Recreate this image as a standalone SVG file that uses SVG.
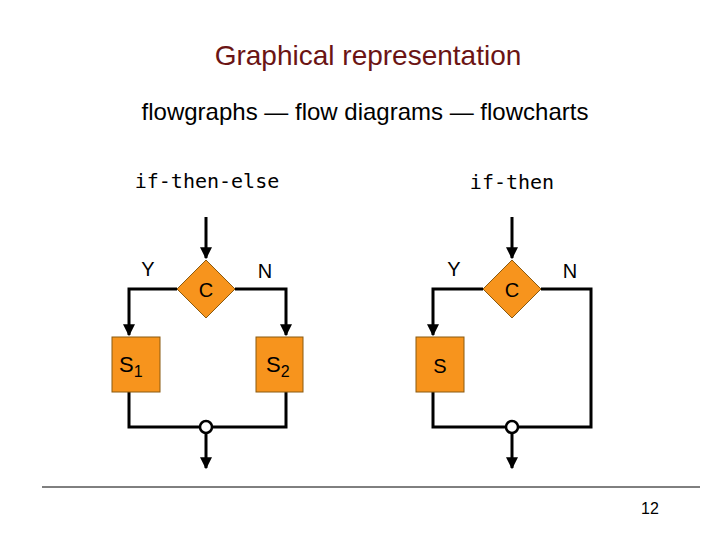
<svg xmlns="http://www.w3.org/2000/svg" width="720" height="540" viewBox="0 0 720 540">
<style>
.t{font-family:"Liberation Sans",Arial,sans-serif;fill:#000}
.m{font-family:"DejaVu Sans Mono","Liberation Mono",monospace;font-size:20px;fill:#000}
.ln{stroke:#000;stroke-width:3;fill:none}
.nd{fill:#f7941d;stroke:#8a5a10;stroke-width:1}
</style>
<defs><marker id="a" viewBox="0 0 10 10" refX="9" refY="5" markerWidth="4" markerHeight="4" orient="auto" markerUnits="strokeWidth"><path d="M0,0L10,5L0,10z" fill="#000"/></marker></defs>
<rect width="720" height="540" fill="#fff"/>
<text class="t" x="368" y="65" font-size="28" fill="#6b1414" style="fill:#6b1414" text-anchor="middle">Graphical representation</text>
<text class="t" x="365" y="120" font-size="24" text-anchor="middle">flowgraphs — flow diagrams — flowcharts</text>
<text class="m" x="207" y="188" text-anchor="middle">if-then-else</text>
<text class="m" x="512" y="189" text-anchor="middle">if-then</text>
<g id="connectors">
<path class="ln" d="M206,217V258" marker-end="url(#a)"/>
<path class="ln" d="M177,289H129V335" marker-end="url(#a)"/>
<path class="ln" d="M235,289H286V335" marker-end="url(#a)"/>
<path class="ln" d="M129,392V427H200M212,427H286V392"/>
<path class="ln" d="M206,433V468" marker-end="url(#a)"/>
<path class="ln" d="M512,217V258" marker-end="url(#a)"/>
<path class="ln" d="M483,289H433V335" marker-end="url(#a)"/>
<path class="ln" d="M541,289H591V427H518M506,427H433V392"/>
<path class="ln" d="M512,433V468" marker-end="url(#a)"/>
</g>
<g id="c1"><path class="nd" d="M206,260L235,289L206,318L177,289z"/><text class="t" x="206" y="297" font-size="20" text-anchor="middle">C</text></g>
<g id="s1"><rect class="nd" x="112" y="337" width="48" height="55"/><text class="t" x="119" y="372" font-size="22">S<tspan font-size="16" dy="5">1</tspan></text></g>
<g id="s2"><rect class="nd" x="256" y="337" width="47" height="55"/><text class="t" x="266" y="372" font-size="22">S<tspan font-size="16" dy="5">2</tspan></text></g>
<g id="j1"><circle cx="206" cy="427" r="6" fill="#fff" stroke="#000" stroke-width="2.5"/></g>
<text class="t" x="148" y="276" font-size="20" text-anchor="middle">Y</text>
<text class="t" x="265" y="278" font-size="20" text-anchor="middle">N</text>
<g id="c2"><path class="nd" d="M512,260L541,289L512,318L483,289z"/><text class="t" x="512" y="297" font-size="20" text-anchor="middle">C</text></g>
<g id="s"><rect class="nd" x="416" y="337" width="48" height="55"/><text class="t" x="440" y="373" font-size="20" text-anchor="middle">S</text></g>
<g id="j2"><circle cx="512" cy="427" r="6" fill="#fff" stroke="#000" stroke-width="2.5"/></g>
<text class="t" x="454" y="276" font-size="20" text-anchor="middle">Y</text>
<text class="t" x="570" y="278" font-size="20" text-anchor="middle">N</text>
<line x1="42" y1="487" x2="700" y2="487" stroke="#000" stroke-width="1"/>
<text class="t" x="650" y="514" font-size="16" text-anchor="middle">12</text>
</svg>
